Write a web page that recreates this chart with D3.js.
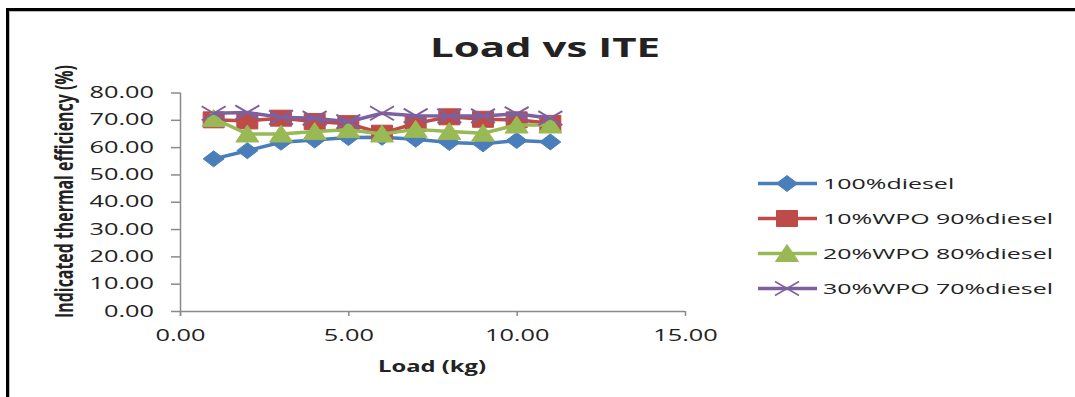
<!DOCTYPE html>
<html>
<head>
<meta charset="utf-8">
<script src="https://cdn.jsdelivr.net/npm/d3@7"></script>
<style>
  html, body { margin: 0; padding: 0; background: #fff; }
  svg { display: block; }
  text { font-family: "Open Sans", "Noto Sans", sans-serif; fill: #222; }
</style>
</head>
<body>
<svg id="chart" width="1075" height="397"></svg>
<script>
// Load (kg) on the x axis
const loads = [1, 2, 3, 4, 5, 6, 7, 8, 9, 10, 11];

// Indicated thermal efficiency (%) for each fuel blend
const diesel100 = [55.7, 58.7, 61.8, 62.6, 63.5, 63.6, 62.9, 61.7, 61.2, 62.4, 61.9];
const wpo10 = [70.0, 69.6, 70.6, 69.4, 68.6, 65.1, 68.7, 71.1, 70.2, 70.0, 68.7];
const wpo20 = [70.5, 64.8, 64.8, 65.7, 66.4, 64.8, 66.5, 65.7, 65.1, 68.1, 68.1];
const wpo30 = [72.4, 72.7, 70.9, 70.6, 69.3, 72.4, 71.5, 71.4, 71.4, 72.2, 70.6];

const seriesNames = ["100%diesel", "10%WPO 90%diesel", "20%WPO 80%diesel", "30%WPO 70%diesel"];
const seriesValues = [diesel100, wpo10, wpo20, wpo30];
const seriesColors = ["#4A7EBB", "#BE4B48", "#98B954", "#7D60A0"];
const seriesMarkers = ["diamond", "square", "triangle", "cross"];

const xTicks = [0, 5, 10, 15];
const yTicks = [0, 10, 20, 30, 40, 50, 60, 70, 80];

const svg = d3.select("#chart");

// Text in this chart is drawn wide; stretch each label horizontally
function widen(sel, factor) {
  sel.each(function () {
    const len = this.getComputedTextLength();
    d3.select(this).attr("textLength", len * factor).attr("lengthAdjust", "spacingAndGlyphs");
  });
}
function fitTo(sel, width) {
  sel.attr("textLength", width).attr("lengthAdjust", "spacingAndGlyphs");
}

// Chart frame
svg.append("line").attr("x1", 6).attr("x2", 1075).attr("y1", 9.5).attr("y2", 9.5)
  .attr("stroke", "#000").attr("stroke-width", 3);
svg.append("line").attr("x1", 7.5).attr("x2", 7.5).attr("y1", 8).attr("y2", 397)
  .attr("stroke", "#000").attr("stroke-width", 3);
svg.append("line").attr("x1", 9.5).attr("x2", 1075).attr("y1", 11.5).attr("y2", 11.5)
  .attr("stroke", "#bbb").attr("stroke-width", 1);
svg.append("line").attr("x1", 9.5).attr("x2", 9.5).attr("y1", 11).attr("y2", 397)
  .attr("stroke", "#bbb").attr("stroke-width", 1);

const x = d3.scaleLinear().domain([0, 15]).range([180, 685]);
const y = d3.scaleLinear().domain([0, 80]).range([311, 92.5]);

// Axes
const axisColor = "#8a8a8a";
const gy = svg.append("g").attr("transform", `translate(${x(0)},0)`)
  .call(d3.axisLeft(y).tickValues(yTicks).tickSize(9).tickPadding(17).tickFormat(d3.format(".2f")));
const gx = svg.append("g").attr("transform", `translate(0,${y(0)})`)
  .call(d3.axisBottom(x).tickValues(xTicks).tickSize(5).tickPadding(14).tickFormat(d3.format(".2f")));
[gx, gy].forEach(g => {
  g.select(".domain").attr("stroke", axisColor).attr("stroke-width", 1.5);
  g.selectAll(".tick line").attr("stroke", axisColor).attr("stroke-width", 1.5);
  g.selectAll(".tick text").attr("font-size", 16).attr("fill", "#262626")
    .style("font-family", '"Open Sans", sans-serif');
});
gx.select(".domain").attr("d", `M${x(0)},0.5H${x(15)}`);
gy.select(".domain").attr("d", `M0.5,${y(80)}V${y(0) + 5}`);
gx.selectAll(".tick text").attr("dy", "0.71em");
widen(gy.selectAll(".tick text"), 1.58);
widen(gx.selectAll(".tick text"), 1.58);

// Titles
fitTo(svg.append("text").attr("x", 545).attr("y", 57).attr("text-anchor", "middle")
  .attr("font-size", 27).attr("font-weight", "bold").attr("fill", "#000").text("Load vs ITE"), 230);

fitTo(svg.append("text").attr("x", 432).attr("y", 372).attr("text-anchor", "middle")
  .attr("font-size", 16).attr("font-weight", "bold").attr("fill", "#000").text("Load (kg)"), 108);

fitTo(svg.append("text").attr("transform", "translate(73,191.5) rotate(-90) scale(1,1.8)")
  .attr("text-anchor", "middle").attr("font-size", 13.5).attr("font-weight", "bold").attr("fill", "#000")
  .text("Indicated thermal efficiency (%)"), 253);

// Marker shapes (wide, short)
function markerPath(kind) {
  const w = 10.5, h = 8;
  switch (kind) {
    case "diamond": return `M${-w},0L0,${-h}L${w},0L0,${h}Z`;
    case "square": return `M${-w},${-h}H${w}V${h}H${-w}Z`;
    case "triangle": return `M0,${-h - 1}L${w + 1},${h}H${-w - 1}Z`;
    case "cross": return `M${-12},${-7}L12,7M${-12},7L12,${-7}`;
  }
}

const line = d3.line().x((d, i) => x(loads[i])).y(d => y(d));

seriesValues.forEach((vals, si) => {
  const g = svg.append("g");
  const col = seriesColors[si];
  g.append("path").attr("d", line(vals)).attr("fill", "none")
    .attr("stroke", col).attr("stroke-width", 3.5).attr("stroke-linejoin", "round");
  const kind = seriesMarkers[si];
  g.selectAll("path.mk").data(vals).join("path").attr("class", "mk")
    .attr("transform", (d, i) => `translate(${x(loads[i])},${y(d)})`)
    .attr("d", markerPath(kind))
    .attr("fill", kind === "cross" ? "none" : col)
    .attr("stroke", col)
    .attr("stroke-width", kind === "cross" ? 2 : 1);
});

// Legend
const legendY = d3.scalePoint().domain(seriesNames).range([183.5, 288.5]);
const legend = svg.append("g");
seriesNames.forEach((name, si) => {
  const cy = legendY(name);
  const col = seriesColors[si];
  const kind = seriesMarkers[si];
  legend.append("line").attr("x1", 758).attr("x2", 817).attr("y1", cy).attr("y2", cy)
    .attr("stroke", col).attr("stroke-width", 3.5);
  legend.append("path").attr("transform", `translate(787,${cy})`).attr("d", markerPath(kind))
    .attr("fill", kind === "cross" ? "none" : col).attr("stroke", col)
    .attr("stroke-width", kind === "cross" ? 1.5 : 1);
  legend.append("text").attr("class", "lg").attr("x", 823).attr("y", cy).attr("dy", "0.36em")
    .attr("font-size", 15).attr("fill", "#262626").text(name);
});
// Widest legend entry spans 230px; scale the others by the same factor
const lgTexts = legend.selectAll("text.lg");
const lgMax = d3.max(lgTexts.nodes(), n => n.getComputedTextLength());
widen(lgTexts, 230 / lgMax);
</script>
</body>
</html>
